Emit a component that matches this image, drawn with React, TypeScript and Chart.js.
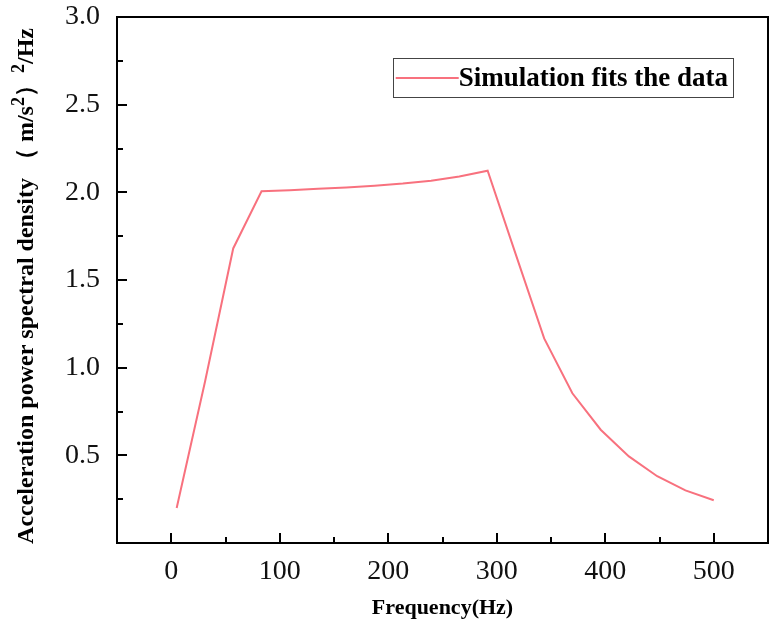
import { useEffect, useRef } from 'react';
import { Chart, registerables } from 'chart.js';

Chart.register(...registerables);

// Frequency bins (Hz) and fitted acceleration PSD ((m/s²)²/Hz)
const frequencies = [
  5, 31.1, 57.1, 83.2, 109.2, 135.3, 161.3, 187.4, 213.4, 239.5,
  265.5, 291.6, 317.6, 343.7, 369.7, 395.8, 421.8, 447.9, 473.9, 500,
];
const psdValues = [
  0.2, 0.92, 1.68, 2.006, 2.012, 2.02, 2.028, 2.038, 2.05, 2.066,
  2.09, 2.123, 1.645, 1.167, 0.854, 0.646, 0.494, 0.381, 0.3, 0.244,
];
const seriesLabel = 'Simulation fits the data';

const xMajorTicks = [0, 100, 200, 300, 400, 500];
const xMinorTicks = [50, 150, 250, 350, 450];
const yMajorTicks = [0.5, 1.0, 1.5, 2.0, 2.5, 3.0];
const yMinorTicks = [0.25, 0.75, 1.25, 1.75, 2.25, 2.75];

const xTitle = 'Frequency(Hz)';
// Y title pieces; `sup` pieces are drawn as superscripts
const yTitleParts = [
  { text: 'Acceleration power spectral density （ m/s', sup: false },
  { text: '2', sup: true },
  { text: '）', sup: false },
  { text: '2', sup: true },
  { text: '/Hz', sup: false },
];

const SERIF = '"Liberation Serif", "Times New Roman", serif';
const LINE_COLOR = '#f8717e';

// Closed black frame with inward-pointing tick marks
const frameTicks = {
  id: 'frameTicks',
  afterDraw(chart: any) {
    const { ctx, chartArea, scales } = chart;
    const { left, right, top, bottom } = chartArea;
    const x = scales.x;
    const y = scales.y;
    ctx.save();
    ctx.strokeStyle = '#000';
    ctx.lineWidth = 2;
    ctx.strokeRect(left, top, right - left, bottom - top);
    ctx.beginPath();
    const mark = (px: number, py: number, dx: number, dy: number) => {
      ctx.moveTo(px, py);
      ctx.lineTo(px + dx, py + dy);
    };
    xMajorTicks.forEach((v) => mark(Math.round(x.getPixelForValue(v)), bottom, 0, -10));
    xMinorTicks.forEach((v) => mark(Math.round(x.getPixelForValue(v)), bottom, 0, -6));
    yMajorTicks.forEach((v) => mark(left, Math.round(y.getPixelForValue(v)), 10, 0));
    yMinorTicks.forEach((v) => mark(left, Math.round(y.getPixelForValue(v)), 6, 0));
    ctx.stroke();
    ctx.restore();
  },
};

// Rotated y-axis title with real superscripts
const yAxisTitle = {
  id: 'yAxisTitle',
  afterDraw(chart: any) {
    const { ctx, chartArea } = chart;
    const mainFont = `bold 24px ${SERIF}`;
    const supFont = `bold 18px ${SERIF}`;
    ctx.save();
    let total = 0;
    const widths = yTitleParts.map((p) => {
      ctx.font = p.sup ? supFont : mainFont;
      const w = ctx.measureText(p.text).width;
      total += w;
      return w;
    });
    ctx.translate(25, (chartArea.top + chartArea.bottom) / 2 + 6);
    ctx.rotate(-Math.PI / 2);
    ctx.fillStyle = '#000';
    ctx.textAlign = 'left';
    ctx.textBaseline = 'alphabetic';
    let cx = -total / 2;
    yTitleParts.forEach((p, i) => {
      ctx.font = p.sup ? supFont : mainFont;
      ctx.fillText(p.text, cx, p.sup ? -1 : 8);
      cx += widths[i];
    });
    ctx.restore();
  },
};

// Boxed legend inside the upper right of the plot area
const boxedLegend = {
  id: 'boxedLegend',
  afterDraw(chart: any) {
    const { ctx, chartArea } = chart;
    const ds = chart.data.datasets[0];
    ctx.save();
    ctx.font = `bold 27px ${SERIF}`;
    const textW = ctx.measureText(ds.label).width;
    const sample = 63;
    const boxW = 3 + sample + textW + 5;
    const boxH = 39;
    const bx = chartArea.right - 35 - boxW;
    const by = chartArea.top + 41;
    ctx.strokeStyle = '#444';
    ctx.lineWidth = 1;
    ctx.strokeRect(Math.round(bx) + 0.5, Math.round(by) + 0.5, Math.round(boxW), boxH);
    ctx.strokeStyle = ds.borderColor;
    ctx.lineWidth = 2;
    ctx.beginPath();
    ctx.moveTo(bx + 3, by + 20);
    ctx.lineTo(bx + 3 + sample, by + 20);
    ctx.stroke();
    ctx.fillStyle = '#000';
    ctx.textBaseline = 'middle';
    ctx.textAlign = 'left';
    ctx.fillText(ds.label, bx + 3 + sample, by + 21);
    ctx.restore();
  },
};

export default function App() {
  const canvasRef = useRef<HTMLCanvasElement | null>(null);

  useEffect(() => {
    const canvas = canvasRef.current;
    if (!canvas) return;
    const chart = new Chart(canvas, {
      type: 'line',
      data: {
        datasets: [
          {
            label: seriesLabel,
            data: frequencies.map((f, i) => ({ x: f, y: psdValues[i] })),
            borderColor: LINE_COLOR,
            backgroundColor: LINE_COLOR,
            borderWidth: 2,
            pointRadius: 0,
            tension: 0,
          },
        ],
      },
      options: {
        responsive: false,
        animation: false,
        devicePixelRatio: 1,
        layout: { padding: { top: 17, right: 10, left: 0, bottom: 0 } },
        plugins: {
          legend: { display: false },
          tooltip: { enabled: false },
        },
        scales: {
          x: {
            type: 'linear',
            min: -50,
            max: 550,
            border: { display: false },
            grid: { display: false, drawTicks: false },
            afterBuildTicks: (scale: any) => {
              scale.ticks = xMajorTicks.map((v) => ({ value: v }));
            },
            afterFit: (scale: any) => {
              scale.height = 88;
              scale.paddingLeft = 0;
              scale.paddingRight = 0;
            },
            ticks: {
              padding: 12,
              color: '#111',
              font: { family: SERIF, size: 28 },
              maxRotation: 0,
              callback: (v: any) => String(v),
            },
            title: {
              display: true,
              text: xTitle,
              color: '#000',
              font: { family: SERIF, size: 22, weight: 'bold' },
              padding: { top: 0, bottom: 9 },
            },
          },
          y: {
            type: 'linear',
            min: 0,
            max: 3,
            border: { display: false },
            grid: { display: false, drawTicks: false },
            afterBuildTicks: (scale: any) => {
              scale.ticks = yMajorTicks.map((v) => ({ value: v }));
            },
            afterFit: (scale: any) => {
              scale.width = 117;
              scale.paddingTop = 0;
              scale.paddingBottom = 0;
            },
            ticks: {
              padding: 17,
              color: '#111',
              font: { family: SERIF, size: 28 },
              callback: (v: any) => Number(v).toFixed(1),
            },
            title: { display: false },
          },
        },
      },
      plugins: [frameTicks, yAxisTitle, boxedLegend],
    });
    return () => chart.destroy();
  }, []);

  return (
    <div style={{ position: 'absolute', left: 0, top: 0, width: 778, height: 631, background: '#fff' }}>
      <canvas ref={canvasRef} width={778} height={631} />
    </div>
  );
}
